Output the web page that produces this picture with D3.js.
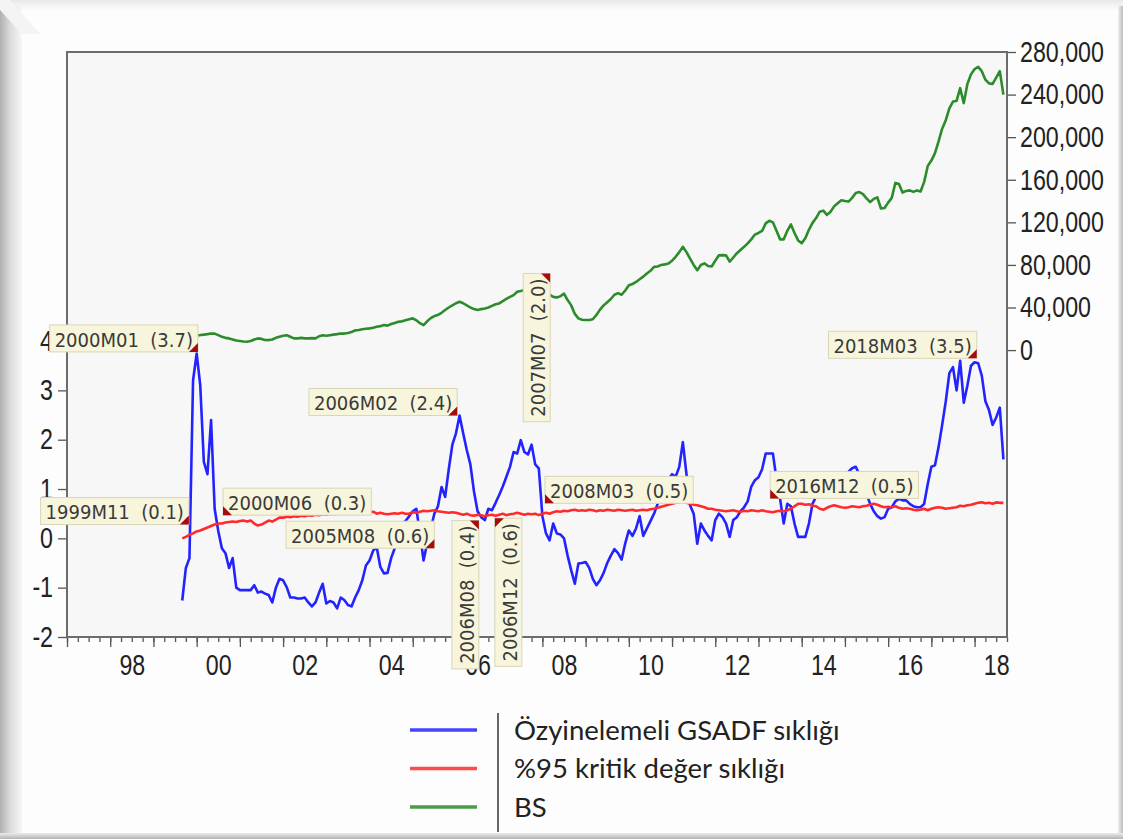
<!DOCTYPE html>
<html>
<head>
<meta charset="utf-8">
<script src="https://cdn.jsdelivr.net/npm/d3@7"></script>
<style>
	body { margin: 0; background: #fff; }
	.tick text { font-family: "Liberation Sans", Arial, sans-serif; font-size: 29px; fill: #222; }
	.tick line { stroke: #555; stroke-width: 1.3; }
	.ann text { font-family: "DejaVu Sans Condensed", "DejaVu Sans", sans-serif; font-size: 20px; fill: #3a3a3a; white-space: pre; }
	.legend text { font-family: Lato, "Open Sans", sans-serif; font-size: 27.5px; fill: #222; }
</style>
</head>
<body>
<div class="chart"></div>
<script>

// svg container size
const width = 1123,
	  height = 839;

// plot frame (pixels)
const frame = { left: 67, right: 1007, top: 52, bottom: 637 };

// tick labels are drawn narrow, like Arial Narrow
const narrow = 0.8;


// ---------------- data : monthly, 1999M09 .. 2018M09 ----------------

const firstYear = 1999, firstMonth = 9;

// Özyinelemeli GSADF (left axis)
const gsadf = [
	-1.26, -0.6, -0.4, 3.2,                                                   // 1999 M09-M12
	3.75, 3.1, 1.55, 1.3, 2.4, 0.6, 0.15, -0.2, -0.3, -0.6, -0.4, -1.0,         // 2000
	-1.05, -1.05, -1.05, -1.05, -0.95, -1.1, -1.08, -1.12, -1.15, -1.3, -1.0, -0.82, // 2001
	-0.85, -0.99, -1.2, -1.2, -1.22, -1.22, -1.2, -1.3, -1.38, -1.3, -1.1, -0.92,    // 2002
	-1.32, -1.27, -1.3, -1.42, -1.2, -1.25, -1.35, -1.38, -1.2, -1.05, -0.85, -0.55, // 2003
	-0.45, -0.25, -0.18, -0.58, -0.71, -0.7, -0.4, -0.2, 0.1, 0.3, 0.35, 0.45,  // 2004
	0.55, 0.6, 0.1, -0.45, -0.1, 0.2, 0.5, 0.65, 1.04, 0.84, 1.4, 1.9,          // 2005
	2.13, 2.49, 2.13, 1.79, 1.5, 0.95, 0.55, 0.43, 0.37, 0.6, 0.57, 0.72,       // 2006
	0.88, 1.05, 1.25, 1.45, 1.75, 1.72, 1.99, 1.75, 1.7, 1.9, 1.5, 1.42,        // 2007
	0.45, 0.1, -0.04, 0.3, 0.1, 0.08, 0.0, -0.35, -0.65, -0.92, -0.51, -0.5,    // 2008
	-0.48, -0.6, -0.82, -0.95, -0.85, -0.7, -0.5, -0.35, -0.22, -0.3, -0.43, -0.1, // 2009
	0.16, 0.05, 0.2, 0.45, 0.05, 0.2, 0.35, 0.5, 0.7, 0.9, 1.1, 1.2,            // 2010
	1.3, 1.25, 1.45, 1.95, 1.3, 0.67, 0.5, -0.11, 0.3, 0.16, 0.05, -0.04,       // 2011
	0.37, 0.5, 0.43, 0.3, 0.03, 0.37, 0.43, 0.55, 0.63, 0.75, 1.05, 1.18,       // 2012
	1.24, 1.4, 1.72, 1.72, 1.72, 1.2, 0.8, 0.3, 0.7, 0.65, 0.3, 0.03,           // 2013
	0.03, 0.03, 0.3, 0.7, 0.85, 0.95, 1.0, 1.05, 1.1, 1.15, 1.2, 1.25,          // 2014
	1.3, 1.35, 1.42, 1.45, 1.3, 1.1, 0.9, 0.7, 0.55, 0.45, 0.4, 0.43,           // 2015
	0.6, 0.63, 0.75, 0.8, 0.77, 0.77, 0.7, 0.65, 0.63, 0.63, 0.7, 1.1,          // 2016
	1.45, 1.48, 1.85, 2.3, 2.78, 3.35, 3.47, 3.0, 3.6, 2.75, 3.1, 3.5,          // 2017
	3.57, 3.55, 3.3, 2.78, 2.6, 2.3, 2.45, 2.65, 1.6                            // 2018 M01-M09
];

// %95 kritik değer (left axis)
const critical = [
	0.0, 0.03, 0.07, 0.1,
	0.14, 0.16, 0.19, 0.22, 0.25, 0.28, 0.3, 0.3, 0.32, 0.33, 0.34, 0.33,
	0.35, 0.36, 0.34, 0.36, 0.3, 0.26, 0.28, 0.32, 0.36, 0.34, 0.38, 0.42,
	0.42, 0.44, 0.43, 0.45, 0.44, 0.46, 0.45, 0.47, 0.46, 0.48, 0.47, 0.49,
	0.48, 0.5, 0.49, 0.5, 0.51, 0.5, 0.52, 0.5, 0.52, 0.55, 0.57, 0.55,
	0.53, 0.54, 0.5, 0.52, 0.5, 0.49, 0.5, 0.51, 0.5, 0.52, 0.5, 0.5,
	0.53, 0.52, 0.54, 0.56, 0.55, 0.56, 0.57, 0.55, 0.54, 0.53, 0.52, 0.53,
	0.52, 0.5, 0.48, 0.5, 0.47, 0.46, 0.48, 0.47, 0.45, 0.47, 0.48, 0.46,
	0.48, 0.5, 0.47, 0.49, 0.5, 0.52, 0.5, 0.48, 0.5, 0.49, 0.5, 0.47,
	0.5, 0.52, 0.5, 0.53, 0.55, 0.54, 0.56, 0.55, 0.57, 0.58, 0.56, 0.57,
	0.56, 0.58, 0.57, 0.55, 0.57, 0.56, 0.58, 0.57, 0.56, 0.58, 0.57, 0.56,
	0.57, 0.58, 0.56, 0.57, 0.58, 0.57, 0.59, 0.6, 0.62, 0.64, 0.66, 0.68,
	0.7, 0.72, 0.73, 0.75, 0.72, 0.7, 0.68, 0.67, 0.65, 0.63, 0.6, 0.6,
	0.58, 0.57, 0.56, 0.55, 0.56, 0.57, 0.55, 0.54, 0.56, 0.55, 0.57, 0.56,
	0.55, 0.57, 0.55, 0.54, 0.53, 0.55, 0.56, 0.55, 0.57, 0.6, 0.65, 0.7,
	0.7, 0.68, 0.69, 0.66, 0.65, 0.6, 0.58, 0.62, 0.65, 0.67, 0.65, 0.63,
	0.62, 0.63, 0.65, 0.64, 0.63, 0.65, 0.66, 0.68, 0.7, 0.68, 0.65, 0.63,
	0.64, 0.63, 0.65, 0.62, 0.6, 0.61, 0.6, 0.58, 0.57, 0.58, 0.6, 0.57,
	0.6, 0.62, 0.63, 0.62, 0.6, 0.61, 0.62, 0.63, 0.66, 0.65, 0.67, 0.68,
	0.7, 0.72, 0.73, 0.71, 0.72, 0.7, 0.73, 0.72, 0.72
];

// BS (right axis)
const bs = [
	13000, 13500, 14000, 14500,
	14000, 14100, 14500, 15000, 15600, 15500, 14000, 12500, 11500, 11000, 10000, 9000,
	8500, 8000, 7800, 8500, 10000, 11000, 10500, 9500, 9400, 10000, 11500, 12500,
	13500, 14000, 12500, 11000, 11000, 11500, 11000, 11000, 11200, 11000, 13000, 14000,
	13500, 14000, 14500, 15000, 15600, 15500, 16000, 17000, 18500, 18800, 19500, 20000,
	20400, 21000, 22000, 22500, 23500, 23000, 24500, 25500, 26600, 27000, 28000, 29000,
	29800, 28000, 25300, 23500, 27000, 30000, 32000, 33000, 35000, 37600, 40000, 42000,
	44000, 45400, 44000, 42000, 40000, 38500, 37600, 38500, 39000, 40000, 41500, 43000,
	43800, 46000, 48000, 50000, 51600, 54800, 55500, 56500, 57000, 56000, 55000, 53000,
	52000, 51000, 52000, 50000, 49500, 50500, 53000, 47000, 42000, 34000, 29800, 28500,
	28200, 28200, 29000, 33000, 38000, 42000, 45000, 48000, 52000, 53500, 52000, 56000,
	61000, 62000, 64000, 66500, 69000, 72000, 74500, 78200, 78500, 80000, 80500, 81400,
	84000, 87600, 92000, 97000, 92000, 86000, 80000, 75100, 80000, 81400, 79000, 78500,
	84000, 89000, 89200, 89000, 83000, 87000, 91000, 94000, 97000, 100200, 104000, 108500,
	110000, 112000, 119000, 121500, 120000, 112000, 104000, 104000, 112000, 118000, 110000, 103000,
	100500, 105000, 113000, 119500, 124000, 130000, 131000, 127000, 130000, 135000, 138000, 140800,
	140000, 139500, 143000, 147500, 148500, 146500, 142500, 139000, 142000, 143500, 133000, 133500,
	138500, 143000, 157000, 156000, 148000, 149500, 150000, 148600, 150000, 149000, 158000, 173000,
	178000, 185000, 196000, 208000, 216000, 227000, 233500, 234000, 246000, 232000, 250000, 259000,
	264000, 266000, 262000, 254000, 250500, 250000, 256000, 262000, 240000
];

// axis ticks
const leftTicks = [-2, -1, 0, 1, 2, 3, 4];
const rightTicks = [0, 40000, 80000, 120000, 160000, 200000, 240000, 280000];
const yearLabels = [1998, 2000, 2002, 2004, 2006, 2008, 2010, 2012, 2014, 2016, 2018];

// annotations : text, anchor (decimal year, left-axis value), corner at anchor, vertical?
const annLabels = ["2000M01  (3.7)", "1999M11  (0.1)", "2000M06  (0.3)", "2005M08  (0.6)",
				   "2006M02  (2.4)", "2006M08  (0.4)", "2006M12  (0.6)", "2007M07  (2.0)",
				   "2008M03  (0.5)", "2016M12  (0.5)", "2018M03  (3.5)"];
const annTimes   = [2000.03, 1999.82, 2000.61, 2005.5, 2006.03, 2006.53, 2006.9, 2008.18, 2008.06, 2013.27, 2018.05];
const annValues  = [3.78, 0.28, 0.47, -0.2, 2.49, 0.36, 0.41, 5.37, 0.71, 0.81, 3.65];
const annCorners = ["br", "br", "bl", "br", "br", "tr", "tl", "tr", "bl", "bl", "br"];
const annVertical = [false, false, false, false, false, true, true, true, false, false, false];

// legend
const legendNames = ["Özyinelemeli GSADF sıklığı", "%95 kritik değer sıklığı", "BS"];
const legendColors = ["#2323ff", "#ff2b2b", "#2c8c2c"];


// month positions as decimal years
const dates = gsadf.map((d, i) => firstYear + (firstMonth - 1 + i) / 12);


// scales
const x = d3.scaleLinear().domain([1997, 2018.75]).range([frame.left, frame.right]);
const yLeft = d3.scaleLinear().domain([-2, 9.86]).range([frame.bottom, frame.top]);
const yRight = d3.scaleLinear().domain([-269500, 280000]).range([frame.bottom, frame.top]);


// svg
let svg = d3.select(".chart")
			.append("svg")
			.attr("width", width)
			.attr("height", height);

const defs = svg.append("defs");

const grad = (id, x2, y2, stops) => {
	let g = defs.append("linearGradient").attr("id", id)
				.attr("x1", 0).attr("y1", 0).attr("x2", x2).attr("y2", y2);
	stops.forEach(s => g.append("stop").attr("offset", s[0]).attr("stop-color", s[1]));
};
grad("leftEdge", 1, 0, [[0, "#b0b0b0"], [0.45, "#dadada"], [1, "#f7f7f7"]]);
grad("bottomEdge", 0, 1, [[0, "#ececec"], [1, "#b2b2b2"]]);
grad("topEdge", 0, 1, [[0, "#e8e8e8"], [1, "#fcfcfc"]]);
grad("rightEdge", 1, 0, [[0, "#f0f0f0"], [1, "#bdbdbd"]]);

// picture card with bevel edges
svg.append("rect").attr("width", width).attr("height", height).attr("fill", "#fdfdfd");
svg.append("rect").attr("x", 0).attr("y", 0).attr("width", width).attr("height", 10).attr("fill", "url(#topEdge)");
svg.append("rect").attr("x", 0).attr("y", 6).attr("width", 22).attr("height", height - 6).attr("fill", "url(#leftEdge)");
svg.append("path").attr("d", "M0,0 L10,0 L40,34 L22,34 L0,10 Z").attr("fill", "#f4f4f4");
svg.append("rect").attr("x", width - 5).attr("y", 6).attr("width", 5).attr("height", height - 6).attr("fill", "url(#rightEdge)");
svg.append("rect").attr("x", 0).attr("y", height - 6).attr("width", width).attr("height", 6).attr("fill", "url(#bottomEdge)");

// plot area
svg.append("rect")
	.attr("x", frame.left).attr("y", frame.top)
	.attr("width", frame.right - frame.left)
	.attr("height", frame.bottom - frame.top)
	.attr("fill", "#f7f7f7");


// axes
const styleAxis = g => {
	g.select(".domain").remove();
	// squeeze the labels horizontally around their own anchor
	g.selectAll("text").each(function() {
		let t = d3.select(this);
		const xv = +t.attr("x") || 0;
		t.attr("x", xv / narrow).attr("transform", `scale(${narrow},1)`);
	});
};

svg.append("g")
	.attr("transform", `translate(${frame.left},0)`)
	.call(d3.axisLeft(yLeft).tickValues(leftTicks).tickFormat(d => String(d)).tickSize(9).tickPadding(5))
	.call(styleAxis);

svg.append("g")
	.attr("transform", `translate(${frame.right},0)`)
	.call(d3.axisRight(yRight).tickValues(rightTicks).tickFormat(d3.format(",")).tickSize(9).tickPadding(4))
	.call(styleAxis);

// yearly (major) and quarterly (minor) ticks
svg.append("g")
	.attr("transform", `translate(0,${frame.bottom})`)
	.call(d3.axisBottom(x).tickValues(d3.range(1997, 2018.76, 0.25)).tickFormat("").tickSize(5))
	.call(styleAxis);

svg.append("g")
	.attr("transform", `translate(0,${frame.bottom})`)
	.call(d3.axisBottom(x).tickValues(d3.range(1997, 2019, 1)).tickFormat("").tickSize(10))
	.call(styleAxis);

// year labels centred on the year
svg.append("g")
	.attr("transform", `translate(0,${frame.bottom})`)
	.call(d3.axisBottom(x).tickValues(yearLabels.map(y => y + 0.5))
			.tickFormat(d => d3.format("02d")(Math.floor(d) % 100)).tickSize(0).tickPadding(17))
	.call(styleAxis);


// series lines
const lineLeft = d3.line().x((d, i) => x(dates[i])).y(d => yLeft(d));
const lineRight = d3.line().x((d, i) => x(dates[i])).y(d => yRight(d));

const series = [
	{ data: gsadf, line: lineLeft, color: legendColors[0] },
	{ data: critical, line: lineLeft, color: legendColors[1] },
	{ data: bs, line: lineRight, color: legendColors[2] }
];

svg.append("g")
	.selectAll("path")
	.data(series)
	.enter()
		.append("path")
		.attr("d", d => d.line(d.data))
		.attr("fill", "none")
		.attr("stroke", d => d.color)
		.attr("stroke-width", 2.6)
		.attr("stroke-linejoin", "round");


// frame border
svg.append("rect")
	.attr("x", frame.left).attr("y", frame.top)
	.attr("width", frame.right - frame.left)
	.attr("height", frame.bottom - frame.top)
	.attr("fill", "none")
	.attr("stroke", "#6c6c6c")
	.attr("stroke-width", 2);


// annotation boxes
const boxH = 27, pad = 5, tri = 9;

annLabels.forEach((label, i) => {
	const ax = x(annTimes[i]),
		  ay = yLeft(annValues[i]),
		  corner = annCorners[i];

	let g = svg.append("g").attr("class", "ann");
	let rect = g.append("rect");
	let text = g.append("text").text(label);
	const len = text.node().getComputedTextLength();

	const bw = annVertical[i] ? boxH : len + 2 * pad,
		  bh = annVertical[i] ? len + 2 * pad : boxH;
	const bx = corner[1] === "r" ? ax - bw : ax,
		  by = corner[0] === "b" ? ay - bh : ay;

	rect.attr("x", bx).attr("y", by)
		.attr("width", bw).attr("height", bh)
		.attr("fill", "#f7f5dc")
		.attr("stroke", "#d9d5b8")
		.attr("stroke-width", 1);

	if (annVertical[i]) {
		text.attr("transform", `translate(${bx + bw / 2 + 1},${by + bh - pad}) rotate(-90)`)
			.attr("dy", "0.36em");
	} else {
		text.attr("x", bx + pad).attr("y", by + bh / 2 + 1).attr("dy", "0.36em");
	}

	// small red marker in the anchored corner
	const sx = corner[1] === "r" ? -tri : tri,
		  sy = corner[0] === "b" ? -tri : tri;
	g.append("path")
		.attr("d", `M${ax},${ay} L${ax + sx},${ay} L${ax},${ay + sy} Z`)
		.attr("fill", "#a50d0d");
});


// legend
let legend = svg.append("g").attr("class", "legend");

legend.selectAll("line.key")
	.data(legendNames)
	.enter()
		.append("line")
		.attr("class", "key")
		.attr("x1", 410).attr("x2", 477)
		.attr("y1", (d, i) => 730 + i * 38.5)
		.attr("y2", (d, i) => 730 + i * 38.5)
		.attr("stroke", (d, i) => legendColors[i])
		.attr("stroke-width", 3.5)
		.attr("stroke-opacity", 0.85);

legend.append("line")
	.attr("x1", 498).attr("x2", 498)
	.attr("y1", 713).attr("y2", 832)
	.attr("stroke", "#333")
	.attr("stroke-width", 1.5);

legend.selectAll("text")
	.data(legendNames)
	.enter()
		.append("text")
		.attr("x", 514)
		.attr("y", (d, i) => 730 + i * 38.5)
		.attr("dy", "0.36em")
		.text(d => d);

</script>
</body>
</html>
